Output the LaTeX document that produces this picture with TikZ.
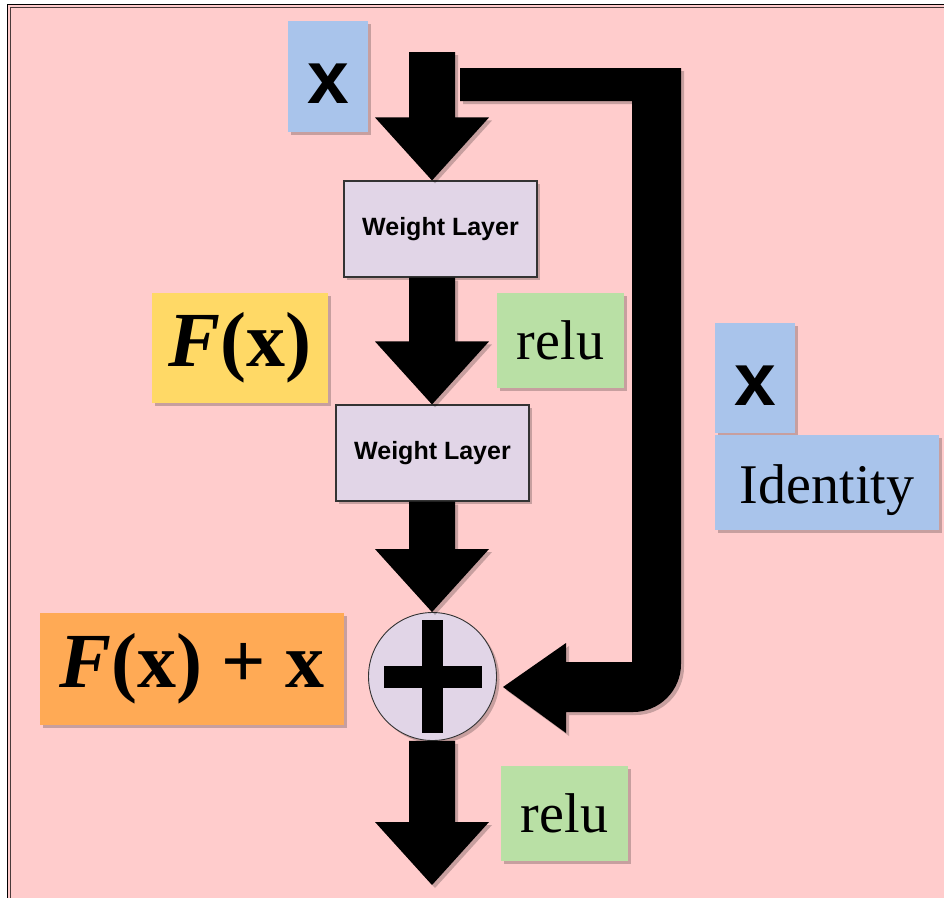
\documentclass[tikz,border=0pt]{standalone}
\usepackage{fontspec}
\setmainfont{Liberation Serif}
\newfontfamily\arialf{Liberation Sans}
\usetikzlibrary{calc,shadows}
\definecolor{bgpink}{HTML}{FFCCCC}
\definecolor{boxblue}{HTML}{A9C4EB}
\definecolor{boxlav}{HTML}{E1D5E7}
\definecolor{boxyellow}{HTML}{FFD966}
\definecolor{boxgreen}{HTML}{B9E0A5}
\definecolor{boxorange}{HTML}{FFAA55}
\definecolor{framedark}{HTML}{4A3A3A}
\definecolor{edgegray}{HTML}{333333}
\newcommand\blockarr[2]{%
  \fill[shad] ($(#1)+(-23,0)$) -- ($(#1)+(23,0)$) -- ($(#2)+(23,-63)$) -- ($(#2)+(57,-63)$) -- (#2) -- ($(#2)+(-57,-63)$) -- ($(#2)+(-23,-63)$) -- cycle;}
\begin{document}
\begin{tikzpicture}[x=1pt,y=-1pt,
  shad/.style={drop shadow={shadow xshift=3pt,shadow yshift=-3pt,fill=black,opacity=0.22}},
  cbox/.style={shad,inner sep=0pt,anchor=center,draw=none},
  layerbox/.style={shad,inner sep=0pt,anchor=center,fill=boxlav,draw=edgegray,line width=1.1pt,
     minimum width=193pt,minimum height=96pt,font=\arialf\bfseries\fontsize{25}{28}\selectfont},
  serifbig/.style={font=\fontsize{56}{60}\selectfont},
  mathbig/.style={font=\bfseries\fontsize{78}{80}\selectfont},
  xbig/.style={font=\arialf\bfseries\fontsize{75}{78}\selectfont}
]
\useasboundingbox (0,0) rectangle (944,897);
\clip (0,0) rectangle (944,897);
\fill[white] (0,0) rectangle (944,897);
\fill[bgpink] (7,4) rectangle (960,910);
\draw[line width=1.3pt,black] (7.5,910) |- (960,4.5);
\draw[line width=1.3pt,framedark] (10.5,910) |- (960,7.5);

% nodes
\node[cbox,fill=boxblue,minimum width=80pt,minimum height=111pt,xbig,text height=53pt,text depth=0pt] (xtop) at (328,76.5) {x};
\node[layerbox] (wl1) at (440.5,229) {Weight Layer};
\node[layerbox] (wl2) at (432.5,453) {Weight Layer};
\node[cbox,fill=boxyellow,minimum width=176pt,minimum height=110pt,mathbig] (fx) at (240,348) {\textit{F}(\textup{x})};
\node[cbox,fill=boxgreen,minimum width=127pt,minimum height=95pt,serifbig] (relu1) at (560.5,340.5) {relu};
\node[shad,circle,fill=boxlav,draw=edgegray,line width=0.9pt,minimum size=128pt,inner sep=0pt] (plus) at (432.5,676.5) {};
\node[cbox,fill=boxorange,minimum width=304pt,minimum height=112pt,mathbig] (fxx) at (192,669) {\textit{F}(\textup{x}) + \textup{x}};
\node[cbox,fill=boxgreen,minimum width=127pt,minimum height=95pt,serifbig] (relu2) at (564.5,813.5) {relu};
\node[cbox,fill=boxblue,minimum width=80pt,minimum height=110pt,xbig,text height=54pt,text depth=0pt] (xright) at (755,378) {x};
\node[cbox,fill=boxblue,minimum width=224pt,minimum height=95pt,serifbig,text height=41pt,text depth=0pt] (ident) at (827,482.5) {Identity};

% plus sign
\fill ($(plus.center)+(-10.5,-56.5)$) rectangle ($(plus.center)+(10.5,56.5)$);
\fill ($(plus.center)+(-49,-11)$) rectangle ($(plus.center)+(49,11)$);

% block arrows
\coordinate (a1s) at (432,52);
\coordinate (outtip) at (432,885);
\blockarr{a1s}{a1s |- wl1.north}
\blockarr{a1s |- wl1.south}{a1s |- wl2.north}
\blockarr{a1s |- wl2.south}{a1s |- plus.north}
\blockarr{a1s |- plus.south}{outtip}

% skip connection
\coordinate (skiptip) at (503,687);
\fill[shad] (460,68) -- (681,68) -- (681,664)
  .. controls (681,690.5) and (659.5,712) .. (633,712)
  -- ($(skiptip)+(63,25)$) -- ($(skiptip)+(63,46)$) -- (skiptip)
  -- ($(skiptip)+(63,-44)$) -- ($(skiptip)+(63,-25)$) -- (632,662)
  -- (632,101) -- (460,101) -- cycle;
\end{tikzpicture}
\end{document}
